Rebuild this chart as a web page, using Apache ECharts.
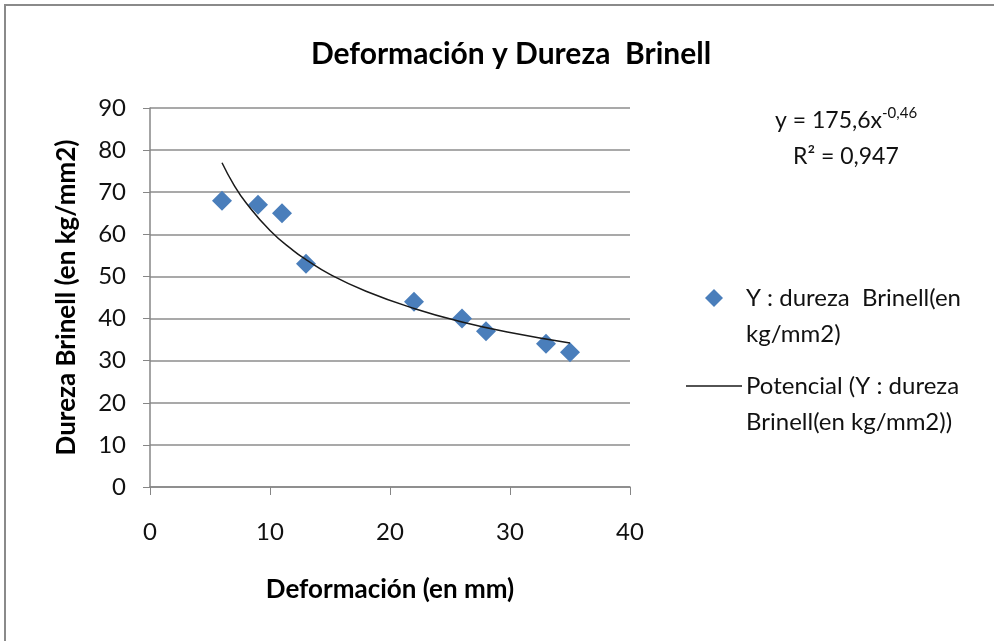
<!DOCTYPE html>
<html>
<head>
<meta charset="utf-8">
<script src="https://cdn.jsdelivr.net/npm/echarts@6/dist/echarts.min.js"></script>
<style>
  html, body { margin: 0; padding: 0; background: #fff; }
  #chart { width: 994px; height: 641px; }
</style>
</head>
<body>
<div id="chart"></div>
<script>
// deformacion (mm) vs dureza Brinell (kg/mm2)
var deformacion = [6, 9, 11, 13, 22, 26, 28, 33, 35];
var dureza = [68, 67, 65, 53, 44, 40, 37, 34, 32];
// linea de tendencia potencial
var trendX = [6, 7, 8, 10, 12, 13, 15, 18, 22, 26, 30, 35];
var trendY = [77.0, 71.7, 67.5, 60.9, 56.0, 54.0, 50.5, 46.5, 42.4, 39.2, 36.7, 34.2];
var xTicks = [0, 10, 20, 30, 40];
var yTicks = [0, 10, 20, 30, 40, 50, 60, 70, 80, 90];

var font = 'Lato, "Open Sans", sans-serif';
var myChart = echarts.init(document.getElementById('chart'));

var option = {
  backgroundColor: '#fff',
  animation: false,
  title: {
    text: 'Deformación y Dureza  Brinell',
    left: 506,
    top: 34,
    textAlign: 'center',
    textStyle: { fontFamily: font, fontSize: 30, fontWeight: 'bold', color: '#000' }
  },
  grid: { left: 150, top: 108, width: 480, height: 379, containLabel: false },
  xAxis: {
    type: 'value',
    min: xTicks[0],
    max: xTicks[xTicks.length - 1],
    interval: 10,
    name: 'Deformación (en mm)',
    nameLocation: 'middle',
    nameGap: 90,
    nameTextStyle: { fontFamily: font, fontSize: 26, fontWeight: 'bold', color: '#000' },
    axisLine: { lineStyle: { color: '#868686', width: 1.5 } },
    axisTick: { show: true, length: 8, lineStyle: { color: '#868686' } },
    axisLabel: { fontFamily: font, fontSize: 24, color: '#111', margin: 33 },
    splitLine: { show: false }
  },
  yAxis: {
    type: 'value',
    min: yTicks[0],
    max: yTicks[yTicks.length - 1],
    interval: 10,
    name: 'Dureza Brinell (en kg/mm2)',
    nameLocation: 'middle',
    nameGap: 70,
    nameTextStyle: { fontFamily: font, fontSize: 26, fontWeight: 'bold', color: '#000' },
    axisLine: { show: true, lineStyle: { color: '#868686', width: 1.5 } },
    axisTick: { show: true, length: 7, lineStyle: { color: '#868686' } },
    axisLabel: { fontFamily: font, fontSize: 24, color: '#111', margin: 24 },
    splitLine: { show: true, lineStyle: { color: '#8c8c8c', width: 1.5 } }
  },
  legend: { show: false },
  series: [
    {
      name: 'Y : dureza  Brinell(en kg/mm2)',
      type: 'scatter',
      symbol: 'diamond',
      symbolSize: 20,
      itemStyle: { color: '#4a7ebb', opacity: 1 },
      data: deformacion.map(function (x, i) { return [x, dureza[i]]; }),
      z: 3
    },
    {
      name: 'Potencial (Y : dureza Brinell(en kg/mm2))',
      type: 'line',
      smooth: true,
      showSymbol: false,
      lineStyle: { color: '#1a1a1a', width: 1.5 },
      data: trendX.map(function (x, i) { return [x, trendY[i]]; }),
      z: 4
    }
  ],
  graphic: [
    // marco gris del area del grafico
    { type: 'rect', shape: { x: 5, y: 5, width: 1200, height: 900 },
      style: { fill: 'none', stroke: '#8a8a8a', lineWidth: 2 }, silent: true },
    // ecuacion
    { type: 'text', x: 775, y: 109,
      style: { text: 'y = 175,6x', font: '23px ' + font, fill: '#111' } },
    { type: 'text', x: 882, y: 106,
      style: { text: '-0,46', font: '15px ' + font, fill: '#111' } },
    { type: 'text', x: 793, y: 145,
      style: { text: 'R² = 0,947', font: '23px ' + font, fill: '#111' } },
    // leyenda
    { type: 'polygon', shape: { points: [[714, 289], [723, 298], [714, 307], [705, 298]] },
      style: { fill: '#4a7ebb' } },
    { type: 'text', x: 746, y: 280,
      style: { text: 'Y : dureza  Brinell(en\nkg/mm2)', font: '24px ' + font,
               lineHeight: 36, fill: '#111' } },
    { type: 'line', shape: { x1: 686, y1: 386, x2: 742, y2: 386 },
      style: { stroke: '#1a1a1a', lineWidth: 1.5 } },
    { type: 'text', x: 746, y: 368,
      style: { text: 'Potencial (Y : dureza\nBrinell(en kg/mm2))', font: '24px ' + font,
               lineHeight: 36, fill: '#111' } }
  ]
};

myChart.setOption(option);
</script>
</body>
</html>
